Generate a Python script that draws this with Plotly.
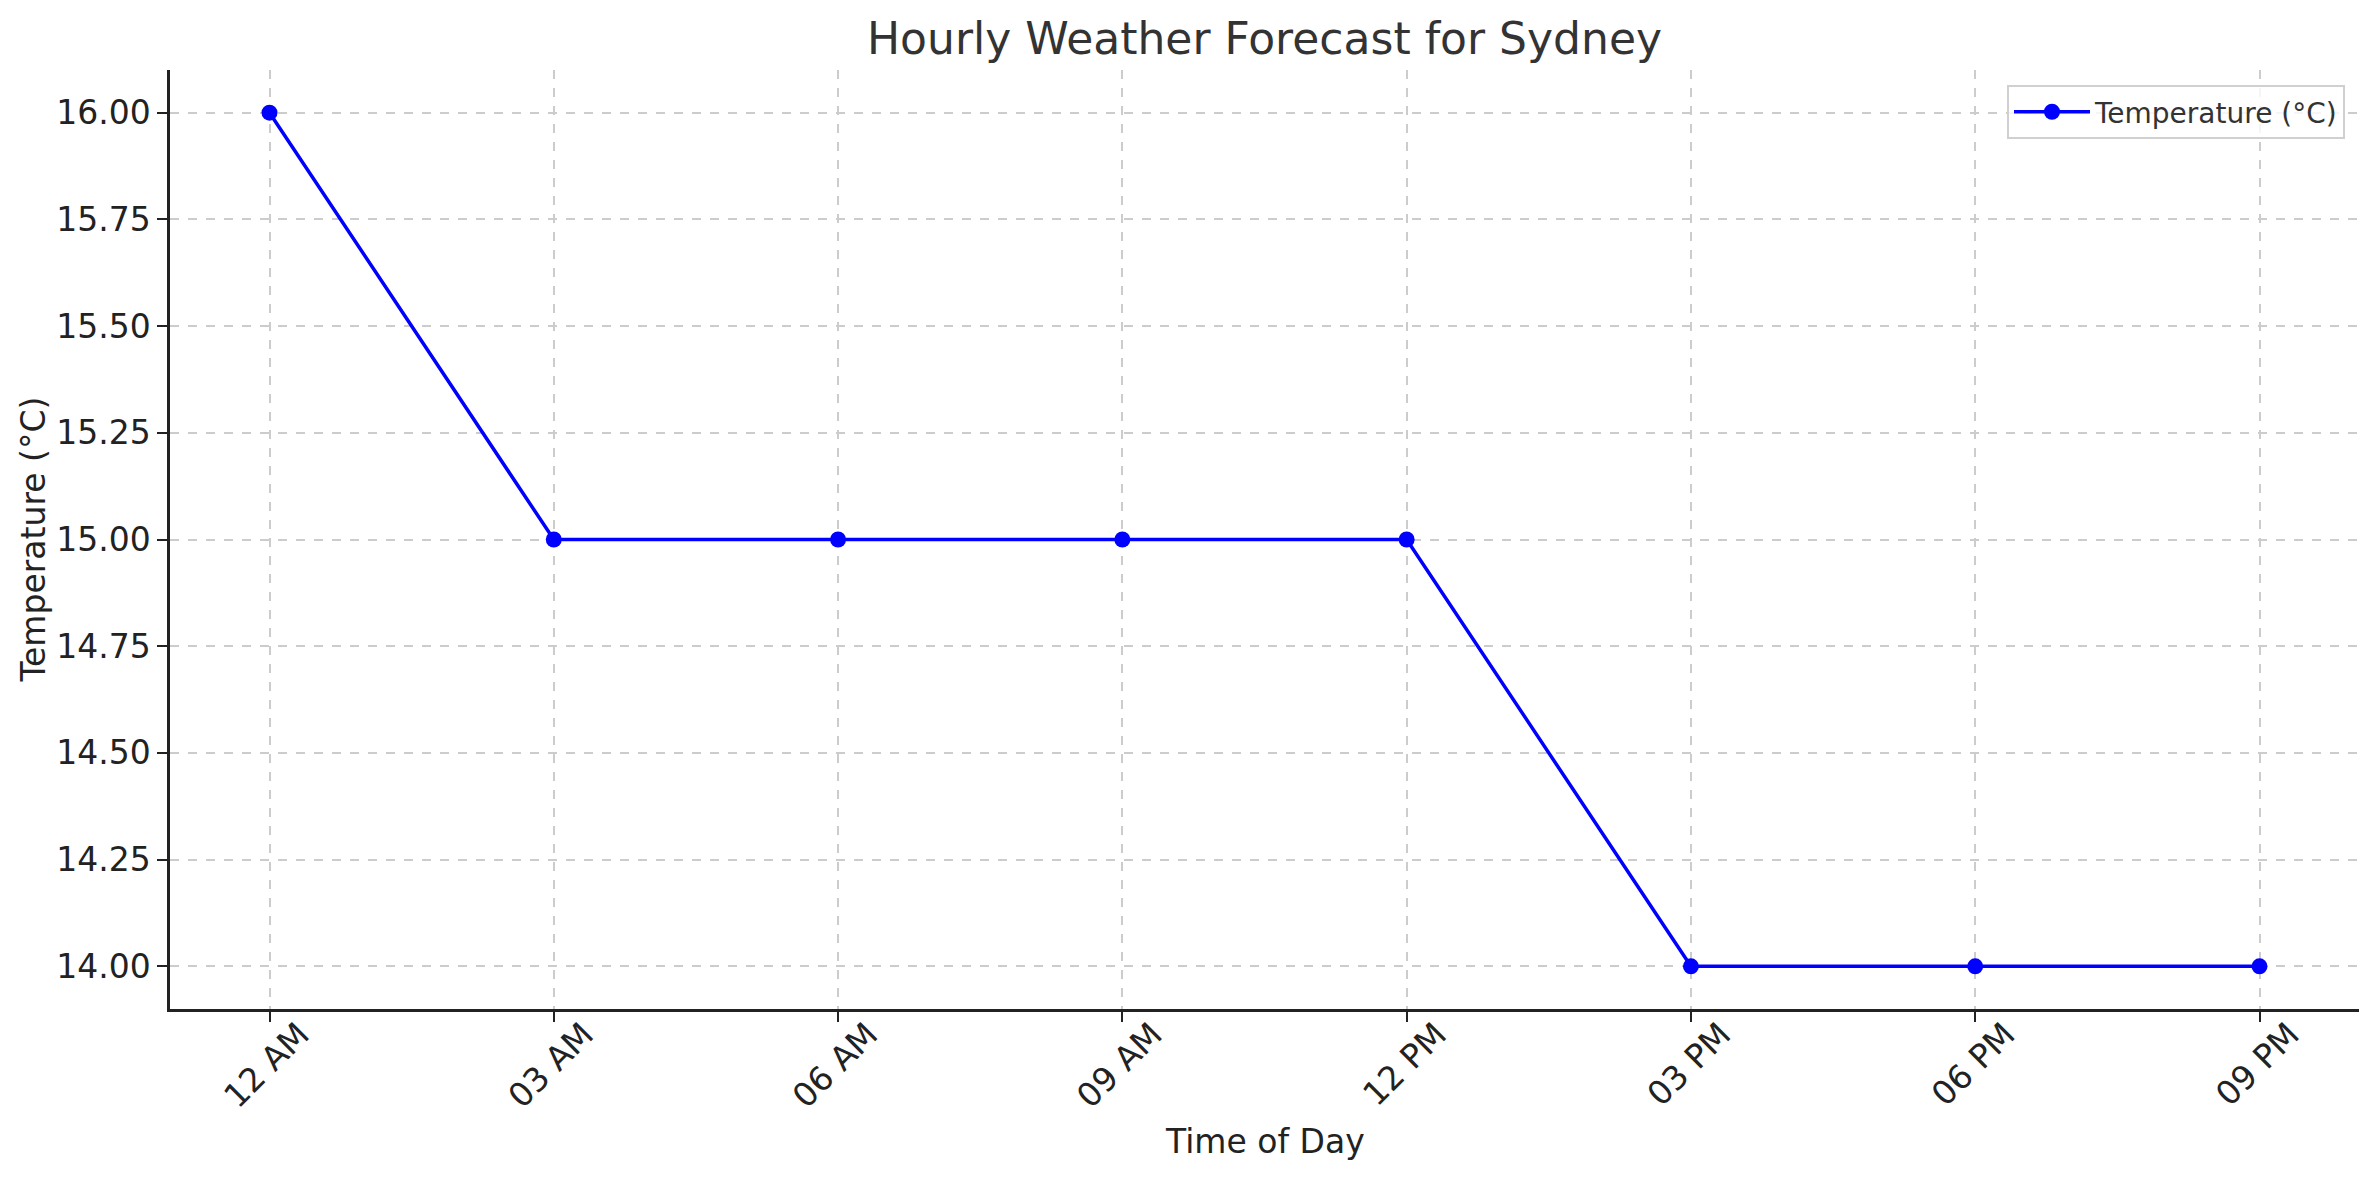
import plotly.graph_objects as go

times = ["12 AM", "03 AM", "06 AM", "09 AM", "12 PM", "03 PM", "06 PM", "09 PM"]
temperature = [16, 15, 15, 15, 15, 14, 14, 14]
y_ticks = [14.00, 14.25, 14.50, 14.75, 15.00, 15.25, 15.50, 15.75, 16.00]

W, H = 2379, 1180
L, R, T, B = 170, 20, 70, 171
PW, PH = W - L - R, H - T - B

fig = go.Figure()
fig.add_trace(go.Scatter(
    x=list(range(len(times))), y=temperature, mode="lines+markers",
    name="Temperature (°C)",
    line=dict(color="#0000FF", width=3.5),
    marker=dict(color="#0000FF", size=16, symbol="circle"),
))

font = "DejaVu Sans"
TICK = 33
fig.update_layout(
    width=W, height=H,
    margin=dict(l=L, r=R, t=T, b=B, autoexpand=False),
    paper_bgcolor="white", plot_bgcolor="white",
    font=dict(family=font, color="#222222"),
    title=dict(text="Hourly Weather Forecast for Sydney", x=(L + (W - R)) / 2 / W, xanchor="center",
               y=1 - 39 / H, yanchor="middle", yref="container",
               font=dict(size=44, color="#333333", family=font)),
    showlegend=True,
    legend=dict(x=0.9936, y=0.984, xanchor="right", yanchor="top",
                bgcolor="rgba(255,255,255,0.8)", bordercolor="#d0d0d0", borderwidth=2,
                itemwidth=76,
                font=dict(size=28, color="#333333", family=font)),
    xaxis=dict(
        tickmode="array", tickvals=list(range(len(times))), ticktext=times,
        range=[-0.35, 7.35], tickangle=-45,
        ticklabelshift=30, ticklabelstandoff=-20,
        showgrid=True, gridcolor="#cccccc", griddash="dash", gridwidth=1.5,
        showline=True, linecolor="#222222", linewidth=2.5,
        ticks="outside", ticklen=10, tickwidth=2, tickcolor="#222222",
        tickfont=dict(size=TICK, color="#222222", family=font),
        zeroline=False, automargin=False,
    ),
    yaxis=dict(
        tickmode="array", tickvals=y_ticks, ticktext=[f"{v:.2f}" for v in y_ticks],
        range=[13.9, 16.1],
        showgrid=True, gridcolor="#cccccc", griddash="dash", gridwidth=1.5,
        showline=True, linecolor="#222222", linewidth=2.5,
        ticks="outside", ticklen=10, tickwidth=2, tickcolor="#222222",
        tickfont=dict(size=TICK, color="#222222", family=font),
        zeroline=False, automargin=False,
    ),
    annotations=[
        dict(text="Time of Day", xref="paper", yref="paper", x=0.5, y=(1009 - 1141) / PH,
             xanchor="center", yanchor="middle", showarrow=False,
             font=dict(size=33, color="#222222", family=font)),
        dict(text="Temperature (°C)", xref="paper", yref="paper", x=(33 - L) / PW, y=0.5,
             xanchor="center", yanchor="middle", textangle=-90, showarrow=False,
             font=dict(size=33, color="#222222", family=font)),
    ],
)

fig.write_html("out.html", config={"displayModeBar": False},
               post_script="document.body.style.margin='0';document.body.style.padding='0';")
